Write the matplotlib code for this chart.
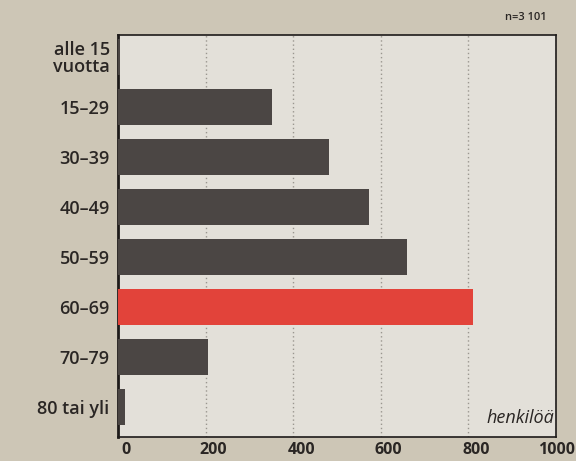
import matplotlib.pyplot as plt
from matplotlib.transforms import offset_copy

categories = ["alle 15\nvuotta", "15–29", "30–39", "40–49", "50–59", "60–69", "70–79", "80 tai yli"]
values = [4, 352, 482, 572, 660, 810, 206, 15]
highlight = "60–69"
xticks = [0, 200, 400, 600, 800, 1000]

fam = ["Open Sans", "DejaVu Sans"]
bg = "#cdc6b6"
panel = "#e3e0d9"
dark = "#4b4644"
red = "#e2433a"
ink = "#2a2624"

fig = plt.figure(figsize=(5.76, 4.61), dpi=100)
fig.patch.set_facecolor(bg)
ax = fig.add_axes([118/576, 1-437/461, (556-118)/576, (437-35)/461])
ax.set_facecolor(panel)

ys = list(range(len(categories)))
colors = [red if c == highlight else dark for c in categories]
ax.barh(ys, values, height=0.72, color=colors, zorder=3)

ax.set_xlim(0, 1000)
ax.set_ylim(7.6, -0.45)
ax.set_yticks(ys)
ax.set_yticklabels(categories, fontsize=13, fontweight="semibold", family=fam,
                   color=ink, linespacing=0.9)
ax.tick_params(axis="y", length=0, pad=6)
ax.set_xticks(xticks)
ax.set_xticklabels([])
ax.tick_params(axis="x", length=0)
ax.grid(axis="x", color="#9a968f", linestyle=(0, (1, 2)), lw=1.0, zorder=1)
for s in ax.spines.values():
    s.set_color("#1e1b1a")
    s.set_linewidth(1.2)
ax.spines["left"].set_linewidth(2.0)

# x tick labels sit a bit to the right of the gridlines
trans = offset_copy(ax.get_xaxis_transform(), fig=fig, x=8, y=-5, units="dots")
for v in xticks[:-1]:
    ax.text(v, 0, str(v), transform=trans, ha="center", va="top",
            fontsize=11.5, fontweight="bold", family=fam, color=ink,
            clip_on=False)
fig.text(575/576, 1-442/461, str(xticks[-1]), ha="right", va="top",
         fontsize=11.5, fontweight="bold", family=fam, color=ink)

ax.text(0.995, 0.025, "henkilöä", transform=ax.transAxes, ha="right", va="bottom",
        fontsize=13, style="italic", family=fam, color=ink, zorder=4)
fig.text(547/576, 1-18/461, "n=3 101", ha="right", va="center",
         fontsize=8, fontweight="semibold", family=fam, color=ink)

fig.savefig("out.png", dpi=100, facecolor=fig.get_facecolor())
